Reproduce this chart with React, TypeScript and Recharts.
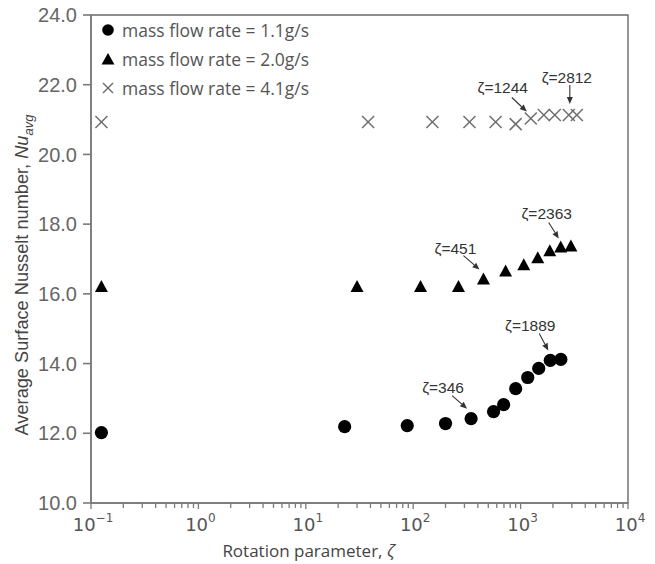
import React from "react";
import { ScatterChart, Scatter, XAxis, YAxis, ReferenceArea } from "recharts";

// ---- data ----
const seriesNames = ["mass flow rate = 1.1g/s", "mass flow rate = 2.0g/s", "mass flow rate = 4.1g/s"];

const circleZeta = [0.125, 23, 88, 200, 346, 560, 695, 900, 1165, 1475, 1889, 2370];
const circleNu = [12.02, 12.19, 12.22, 12.28, 12.42, 12.62, 12.82, 13.28, 13.6, 13.86, 14.09, 14.12];

const triangleZeta = [0.125, 30, 117, 264, 451, 725, 1070, 1445, 1870, 2363, 2940];
const triangleNu = [16.2, 16.2, 16.2, 16.2, 16.41, 16.64, 16.82, 17.02, 17.22, 17.33, 17.36];

const crossZeta = [0.125, 38, 151, 334, 585, 900, 1244, 1645, 2080, 2812, 3340];
const crossNu = [20.93, 20.93, 20.93, 20.93, 20.93, 20.87, 21.03, 21.13, 21.13, 21.13, 21.13];

const annotZeta = [346, 1889, 451, 2363, 1244, 2812];
const annotNu = [12.42, 14.09, 16.41, 17.33, 21.03, 21.13];
const annotText = ["ζ=346", "ζ=1889", "ζ=451", "ζ=2363", "ζ=1244", "ζ=2812"];

const yTicks = [10, 12, 14, 16, 18, 20, 22, 24];
const xMajorExp = [-1, 0, 1, 2, 3, 4];
const xMinorMult = [2, 3, 4, 5, 6, 7, 8, 9];

// ---- layout / style (offsets relative to the annotated point, px) ----
const annotLayout = [
  { tx: -28, ty: -31, sx: -19, sy: -23, ex: -4, ey: -10 },
  { tx: -20, ty: -35, sx: -11, sy: -27, ex: -2, ey: -10 },
  { tx: -28, ty: -31, sx: -20, sy: -24, ex: -4, ey: -10 },
  { tx: -14, ty: -34, sx: -12, sy: -25, ex: -2, ey: -9 },
  { tx: -28, ty: -31, sx: -19, sy: -21, ex: -4, ey: -7 },
  { tx: -2, ty: -38, sx: 1, sy: -30, ex: 1, ey: -11 },
];

const toRows = (xs: number[], ys: number[]) => xs.map((x, i) => ({ x, y: ys[i] }));
const circleData = toRows(circleZeta, circleNu);
const triangleData = toRows(triangleZeta, triangleNu);
const crossData = toRows(crossZeta, crossNu);
const annotData = annotZeta.map((x, i) => ({ x, y: annotNu[i], label: annotText[i], idx: i }));

const xTicks: number[] = [];
xMajorExp.forEach((e, i) => {
  xTicks.push(Math.pow(10, e));
  if (i < xMajorExp.length - 1) xMinorMult.forEach((m) => xTicks.push(m * Math.pow(10, e)));
});

const AXIS = "#7a7a7a";
const SANS = "'Liberation Sans', Arial, sans-serif";
const OPEN = "'Open Sans', sans-serif";
const DEJA = "'DejaVu Sans', sans-serif";

const CircleShape = (p: any) => <circle cx={p.cx} cy={p.cy} r={6.6} fill="#000" />;
const TriangleShape = (p: any) => {
  const { cx, cy } = p;
  return <polygon points={`${cx},${cy - 7} ${cx - 6.5},${cy + 5} ${cx + 6.5},${cy + 5}`} fill="#000" />;
};
const CrossShape = (p: any) => {
  const { cx, cy } = p;
  const s = 6;
  return (
    <g stroke="#6f6f6f" strokeWidth={1.5}>
      <line x1={cx - s} y1={cy - s} x2={cx + s} y2={cy + s} />
      <line x1={cx - s} y1={cy + s} x2={cx + s} y2={cy - s} />
    </g>
  );
};

const AnnotShape = (p: any) => {
  const { cx, cy, payload } = p;
  const L = annotLayout[payload.idx];
  const sx = cx + L.sx, sy = cy + L.sy, ex = cx + L.ex, ey = cy + L.ey;
  const ang = Math.atan2(ey - sy, ex - sx);
  const hl = 7, hw = 3;
  const bx = ex - hl * Math.cos(ang), by = ey - hl * Math.sin(ang);
  const px = -Math.sin(ang) * hw, py = Math.cos(ang) * hw;
  return (
    <g>
      <text x={cx + L.tx} y={cy + L.ty} textAnchor="middle" dominantBaseline="central" fontFamily={SANS} fontSize={15.5} fill="#333">
        {payload.label}
      </text>
      <line x1={sx} y1={sy} x2={bx} y2={by} stroke="#333" strokeWidth={1.1} />
      <polygon points={`${ex},${ey} ${bx + px},${by + py} ${bx - px},${by - py}`} fill="#333" />
    </g>
  );
};

const XTick = (props: any) => {
  const { x, y, payload } = props;
  const v = payload.value;
  const lg = Math.log10(v);
  const e = Math.round(lg);
  const major = Math.abs(lg - e) < 1e-6;
  return (
    <g>
      <line x1={x} x2={x} y1={y} y2={y + (major ? 6 : 5)} stroke={AXIS} strokeWidth={1.3} />
      {major && (
        <text x={x + 2} y={y + 28} textAnchor="middle" fontFamily={DEJA} fontSize={18} fill="#555">
          <tspan>10</tspan>
          <tspan dy={-9} fontSize={12}>{e < 0 ? "\u2212" + Math.abs(e) : String(e)}</tspan>
        </text>
      )}
    </g>
  );
};

const XTitle = (props: any) => {
  const vb = props.viewBox;
  return (
    <text x={vb.x + vb.width / 2 - 51} y={vb.y + 54} textAnchor="middle" fontFamily={OPEN} fontSize={17} fill="#444">
      Rotation parameter, <tspan fontStyle="italic">ζ</tspan>
    </text>
  );
};

// chart occupies the whole page (wrapper pulled over the body margin)
const CHART_W = 655;
const CHART_H = 564;
const PLOT_TOP = 15;
const PLOT_BOTTOM = 503;

const YTitle = (props: any) => {
  const vb = props.viewBox;
  const bx = vb.x + 20;
  const cy = (PLOT_TOP + PLOT_BOTTOM) / 2 + 16;
  return (
    <text x={bx} y={cy} transform={`rotate(-90 ${bx} ${cy})`} textAnchor="middle" fontFamily={SANS} fontSize={18.2} fill="#444">
      Average Surface Nusselt number, <tspan fontStyle="italic">Nu</tspan>
      <tspan fontStyle="italic" fontSize={13} dy={5}>avg</tspan>
    </text>
  );
};

const LegendMarker = ({ i }: { i: number }) => (
  <svg width={16} height={16} style={{ display: "block" }}>
    {i === 0 && <circle cx={8} cy={8} r={5.8} fill="#000" />}
    {i === 1 && <polygon points="8,2 1.5,13.5 14.5,13.5" fill="#000" />}
    {i === 2 && (
      <g stroke="#6f6f6f" strokeWidth={1.4}>
        <line x1={3} y1={3} x2={13} y2={13} />
        <line x1={3} y1={13} x2={13} y2={3} />
      </g>
    )}
  </svg>
);

export default function App() {
  return (
    <div style={{ position: "relative", width: CHART_W, height: CHART_H, margin: "-8px 0 0 -8px" }}>
      <ScatterChart width={CHART_W} height={CHART_H} margin={{ top: PLOT_TOP, right: 27, bottom: 0, left: 8 }}>
        <XAxis
          dataKey="x"
          type="number"
          scale="log"
          domain={[0.1, 10000]}
          allowDataOverflow
          ticks={xTicks}
          interval={0}
          tickSize={0}
          tickMargin={0}
          tickLine={false}
          tick={<XTick />}
          height={CHART_H - PLOT_BOTTOM}
          stroke={AXIS}
          strokeWidth={1.6}
          label={<XTitle />}
        />
        <YAxis
          dataKey="y"
          type="number"
          domain={[10, 24]}
          ticks={yTicks}
          interval={0}
          width={83}
          tickSize={8}
          tickMargin={6}
          stroke={AXIS}
          strokeWidth={1.6}
          tick={{ fontFamily: SANS, fontSize: 20, fill: "#666" }}
          tickFormatter={(v: number) => v.toFixed(1)}
          label={<YTitle />}
        />
        <ReferenceArea x1={0.1} x2={10000} y1={10} y2={24} fill="none" stroke="#6a6a6a" strokeWidth={1.4} />
        <Scatter name={seriesNames[0]} data={circleData} shape={CircleShape} isAnimationActive={false} />
        <Scatter name={seriesNames[1]} data={triangleData} shape={TriangleShape} isAnimationActive={false} />
        <Scatter name={seriesNames[2]} data={crossData} shape={CrossShape} isAnimationActive={false} />
        <Scatter name="annotations" data={annotData} shape={AnnotShape} isAnimationActive={false} legendType="none" />
      </ScatterChart>
      <div style={{ position: "absolute", left: 100, top: 15, fontFamily: OPEN, fontSize: 17.5, color: "#555" }}>
        {seriesNames.map((n, i) => (
          <div key={n} style={{ display: "flex", alignItems: "center", height: 29, whiteSpace: "nowrap" }}>
            <LegendMarker i={i} />
            <span style={{ marginLeft: 6 }}>{n}</span>
          </div>
        ))}
      </div>
    </div>
  );
}
